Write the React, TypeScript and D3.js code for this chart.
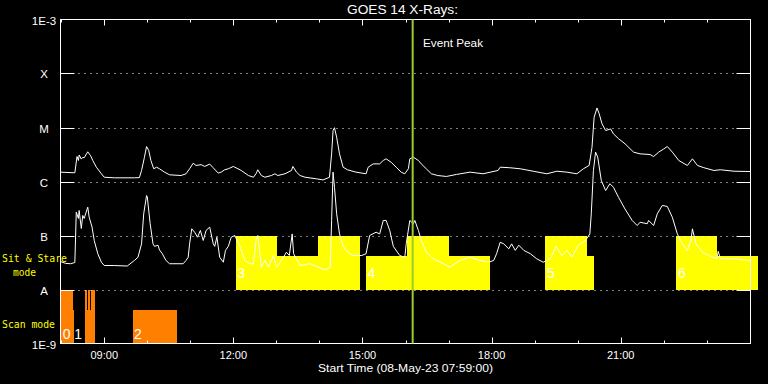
import React from "react";
import * as d3 from "d3";

// ---- data ----
const longChannel: [string, number][] = [
  ["07:59", 1.49e-6], ["08:19", 1.45e-6], ["08:22", 2.9e-6], ["08:24", 2.45e-6], ["08:25", 3.1e-6],
  ["08:28", 2.6e-6], ["08:30", 2.8e-6], ["08:32", 2.75e-6], ["08:37", 3.55e-6], ["08:41", 3.0e-6],
  ["08:44", 2.45e-6], ["08:49", 1.84e-6], ["08:56", 1.39e-6], ["09:00", 1.2e-6], ["09:14", 1.17e-6],
  ["09:42", 1.17e-6], ["09:49", 1.18e-6], ["09:52", 1.6e-6], ["09:56", 2.8e-6], ["09:59", 4.45e-6],
  ["10:02", 3.75e-6], ["10:05", 2.45e-6], ["10:09", 1.72e-6], ["10:13", 1.84e-6], ["10:17", 1.72e-6],
  ["10:24", 1.49e-6], ["10:31", 1.33e-6], ["10:47", 1.29e-6], ["10:54", 1.39e-6], ["10:59", 1.72e-6],
  ["11:04", 2.18e-6], ["11:08", 1.98e-6], ["11:15", 2.05e-6], ["11:20", 1.9e-6], ["11:27", 2.1e-6],
  ["11:32", 1.79e-6], ["11:39", 1.43e-6], ["11:43", 1.49e-6], ["11:48", 1.65e-6], ["11:53", 1.72e-6],
  ["12:00", 1.9e-6], ["12:11", 1.6e-6], ["12:21", 1.29e-6], ["12:28", 1.2e-6], ["12:32", 1.42e-6],
  ["12:34", 1.65e-6], ["12:39", 1.29e-6], ["12:44", 1.2e-6], ["12:53", 1.29e-6], ["12:58", 1.39e-6],
  ["13:02", 1.29e-6], ["13:12", 1.39e-6], ["13:21", 1.6e-6], ["13:23", 1.9e-6], ["13:28", 1.49e-6],
  ["13:33", 1.29e-6], ["13:40", 1.2e-6], ["13:56", 1.12e-6], ["14:05", 1.07e-6], ["14:14", 1.2e-6],
  ["14:17", 3.25e-6], ["14:19", 8.8e-6], ["14:21", 9.9e-6], ["14:24", 6.6e-6], ["14:28", 3.25e-6],
  ["14:33", 1.84e-6], ["14:39", 1.65e-6], ["14:51", 1.49e-6], ["15:05", 1.39e-6], ["15:08", 1.84e-6],
  ["15:15", 2.12e-6], ["15:24", 2.12e-6], ["15:29", 2.45e-6], ["15:33", 2.63e-6], ["15:40", 2.27e-6],
  ["15:47", 1.84e-6], ["15:54", 1.49e-6], ["15:59", 1.39e-6], ["16:04", 1.72e-6], ["16:06", 2.63e-6],
  ["16:11", 2.82e-6], ["16:18", 2.45e-6], ["16:22", 2.12e-6], ["16:29", 1.72e-6], ["16:36", 1.39e-6],
  ["16:45", 1.29e-6], ["16:57", 1.24e-6], ["17:11", 1.35e-6], ["17:30", 1.49e-6], ["17:48", 1.39e-6],
  ["18:09", 1.6e-6], ["18:12", 1.84e-6], ["18:25", 1.8e-6], ["18:40", 1.72e-6], ["18:58", 1.55e-6],
  ["19:17", 1.39e-6], ["19:31", 1.55e-6], ["19:45", 1.49e-6], ["19:59", 1.39e-6], ["20:08", 1.72e-6],
  ["20:16", 1.98e-6], ["20:20", 4.3e-6], ["20:23", 1.55e-5], ["20:27", 2.3e-5], ["20:30", 1.8e-5],
  ["20:34", 1.17e-5], ["20:39", 8.8e-6], ["20:46", 9.4e-6], ["20:50", 7.6e-6], ["20:57", 6.2e-6],
  ["21:06", 5.0e-6], ["21:18", 3.5e-6], ["21:27", 3.25e-6], ["21:41", 3.16e-6], ["21:46", 2.9e-6],
  ["21:53", 3.5e-6], ["22:00", 4.0e-6], ["22:05", 4.45e-6], ["22:12", 3.5e-6], ["22:21", 2.45e-6],
  ["22:33", 1.98e-6], ["22:40", 2.63e-6], ["22:47", 1.98e-6], ["22:56", 1.8e-6], ["23:10", 1.6e-6],
  ["23:19", 1.65e-6], ["23:38", 1.55e-6], ["24:01", 1.53e-6],
];

const shortChannel: [string, number][] = [
  ["07:59", 3.3e-8], ["08:06", 3.05e-8], ["08:13", 3.0e-8], ["08:19", 3.16e-8], ["08:21", 2.7e-7],
  ["08:24", 2.07e-7], ["08:25", 2.9e-7], ["08:28", 1.35e-7], ["08:30", 2.35e-7], ["08:32", 2.07e-7],
  ["08:37", 3.35e-7], ["08:39", 2.18e-7], ["08:43", 1.43e-7], ["08:46", 8.1e-8], ["08:51", 4.6e-8],
  ["08:56", 3.2e-8], ["09:00", 2.78e-8], ["09:14", 2.78e-8], ["09:32", 2.72e-8], ["09:42", 3.45e-8],
  ["09:47", 3.95e-8], ["09:52", 7.0e-8], ["09:55", 2.52e-7], ["09:59", 5.5e-7], ["10:00", 5.2e-7],
  ["10:04", 1.65e-7], ["10:08", 7.0e-8], ["10:10", 6.3e-8], ["10:15", 6.6e-8], ["10:17", 5.4e-8],
  ["10:21", 4.6e-8], ["10:26", 3.45e-8], ["10:31", 3.0e-8], ["10:50", 3.0e-8], ["10:54", 3.45e-8],
  ["10:57", 3.95e-8], ["10:59", 7.0e-8], ["11:02", 1.33e-7], ["11:06", 1.15e-7], ["11:10", 9.3e-8],
  ["11:14", 1.24e-7], ["11:18", 8.1e-8], ["11:22", 1.24e-7], ["11:27", 1.43e-7], ["11:32", 7.0e-8],
  ["11:34", 6.3e-8], ["11:37", 9.3e-8], ["11:41", 3.95e-8], ["11:46", 3.2e-8], ["11:49", 5.3e-8],
  ["11:53", 6.3e-8], ["11:57", 9.3e-8], ["12:02", 1.0e-7], ["12:09", 6.3e-8], ["12:16", 3.45e-8],
  ["12:23", 3.0e-8], ["12:28", 3.0e-8], ["12:32", 9.3e-8], ["12:34", 1.0e-7], ["12:39", 2.59e-8],
  ["12:44", 3.45e-8], ["12:49", 2.59e-8], ["12:56", 4.26e-8], ["13:00", 2.59e-8], ["13:07", 3.45e-8],
  ["13:14", 4.9e-8], ["13:18", 4.26e-8], ["13:22", 1.07e-7], ["13:24", 4.6e-8], ["13:33", 2.78e-8],
  ["13:47", 3.0e-8], ["13:58", 2.59e-8], ["14:08", 2.3e-8], ["14:15", 2.59e-8], ["14:17", 1.9e-7],
  ["14:19", 1.49e-6], ["14:21", 7.8e-7], ["14:24", 2.52e-7], ["14:28", 1.07e-7], ["14:33", 6.3e-8],
  ["14:40", 4.9e-8], ["14:47", 4.26e-8], ["14:59", 4.26e-8], ["15:05", 4.6e-8], ["15:10", 1.0e-7],
  ["15:19", 1.15e-7], ["15:24", 1.07e-7], ["15:29", 1.9e-7], ["15:33", 1.9e-7], ["15:38", 1.24e-7],
  ["15:43", 6.3e-8], ["15:52", 4.26e-8], ["15:59", 3.95e-8], ["16:01", 7.0e-8], ["16:06", 1.9e-7],
  ["16:11", 1.65e-7], ["16:13", 1.9e-7], ["16:18", 1.24e-7], ["16:22", 8.1e-8], ["16:29", 4.9e-8],
  ["16:39", 3.7e-8], ["16:53", 3.0e-8], ["17:02", 2.59e-8], ["17:16", 3.45e-8], ["17:30", 3.95e-8],
  ["17:44", 3.45e-8], ["17:56", 3.2e-8], ["18:03", 3.45e-8], ["18:07", 4.6e-8], ["18:12", 7.5e-8],
  ["18:17", 7.0e-8], ["18:24", 5.66e-8], ["18:28", 7.0e-8], ["18:33", 5.3e-8], ["18:38", 6.6e-8],
  ["18:45", 5.3e-8], ["18:54", 4.6e-8], ["19:03", 3.7e-8], ["19:12", 3.2e-8], ["19:22", 3.7e-8],
  ["19:30", 6.3e-8], ["19:38", 4.26e-8], ["19:45", 5.3e-8], ["19:52", 3.95e-8], ["20:01", 6.6e-8],
  ["20:11", 8.1e-8], ["20:17", 1.07e-7], ["20:19", 2.52e-7], ["20:22", 1.6e-6], ["20:25", 3.5e-6],
  ["20:28", 2.82e-6], ["20:33", 1.04e-6], ["20:39", 6.8e-7], ["20:45", 9.1e-7], ["20:50", 7.8e-7],
  ["20:57", 5.1e-7], ["21:06", 3.1e-7], ["21:16", 1.9e-7], ["21:23", 1.53e-7], ["21:27", 1.76e-7],
  ["21:37", 1.65e-7], ["21:39", 1.9e-7], ["21:46", 1.53e-7], ["21:51", 2.52e-7], ["21:58", 3.6e-7],
  ["22:05", 3.45e-7], ["22:12", 2.18e-7], ["22:19", 1.07e-7], ["22:26", 7.0e-8], ["22:33", 5.3e-8],
  ["22:38", 8.1e-8], ["22:40", 1.33e-7], ["22:45", 7.0e-8], ["22:54", 4.9e-8], ["23:03", 4.26e-8],
  ["23:14", 3.7e-8], ["23:16", 5.1e-8], ["23:19", 3.7e-8], ["23:38", 3.7e-8], ["24:01", 3.45e-8],
];

// instrument mode segments: [start, end, level]
const scanSegments: [string, string, "high" | "low"][] = [
  ["08:00:00", "08:16:10", "high"], ["08:16:10", "08:18:30", "low"],
  ["08:32:30", "08:46:30", "low"],
  ["08:32:30", "08:35:20", "high"], ["08:36:40", "08:40:00", "high"], ["08:42:00", "08:46:30", "high"],
  ["09:39:30", "10:42:00", "low"],
];
const scanLabels: [string, string][] = [["0", "08:00:00"], ["1", "08:16:10"], ["2", "09:39:30"]];

const stareSegments: [string, string, "high" | "low"][] = [
  ["12:03:20", "13:00:10", "high"], ["13:00:10", "13:57:25", "low"], ["13:57:25", "14:56:30", "high"],
  ["15:04:50", "16:01:45", "low"], ["16:01:45", "17:00:45", "high"], ["17:00:45", "17:58:00", "low"],
  ["19:14:50", "20:13:00", "high"], ["20:13:00", "20:23:15", "low"],
  ["22:17:45", "23:14:35", "high"], ["23:14:35", "24:11:50", "low"],
];
const stareLabels: [string, string][] = [
  ["3", "12:03:20"], ["4", "15:04:50"], ["5", "19:14:50"], ["6", "22:17:45"],
];

const scanLevels = { base: 1e-9, low: 4.1e-9, high: 1e-8 };
const stareLevels = { base: 1e-8, low: 4.1e-8, high: 1e-7 };

const yTickValues = [1e-3, 1e-4, 1e-5, 1e-6, 1e-7, 1e-8, 1e-9];
const yTickLabels = ["1E-3", "X", "M", "C", "B", "A", "1E-9"];
const xMajorHours = [9, 12, 15, 18, 21];
const xMajorLabels = ["09:00", "12:00", "15:00", "18:00", "21:00"];
const xMinorHours = [8, 10, 11, 13, 14, 16, 17, 19, 20, 22, 23];
const eventPeak = "16:10:00";
const timeDomain = ["07:59:00", "24:01:00"];

const parseT = (s: string) => {
  const [h, m, sec] = s.split(":");
  return +h + +m / 60 + (sec ? +sec : 0) / 3600;
};

export default function App() {
  const W = 768, H = 384;
  const left = 60.5, right = 750.5, top = 19.5, bottom = 343.5;
  const x = d3.scaleLinear().domain(timeDomain.map(parseT)).range([left, right]);
  const y = d3.scaleLog().domain([1e-9, 1e-3]).range([bottom, top]);
  const line = d3
    .line<[string, number]>()
    .x((d) => x(parseT(d[0])))
    .y((d) => y(d[1]));

  const font = "'Liberation Sans', Arial, sans-serif";
  const mono = "'DejaVu Sans Mono', 'Liberation Mono', monospace";

  const rects = (
    segs: [string, string, "high" | "low"][],
    lv: { base: number; low: number; high: number },
    color: string,
    key: string
  ) =>
    segs.map((s, i) => {
      const x0 = x(parseT(s[0]));
      const x1 = x(parseT(s[1]));
      const yt = y(s[2] === "high" ? lv.high : lv.low);
      return (
        <rect key={key + i} x={x0} y={yt} width={x1 - x0} height={y(lv.base) - yt} fill={color} shapeRendering="crispEdges" />
      );
    });

  return (
    <svg
      width={W}
      height={H}
      style={{ position: "fixed", left: 0, top: 0, display: "block" }}
      fontFamily={font}
    >
      <rect width={W} height={H} fill="#000" />
      {rects(stareSegments, stareLevels, "#ffff00", "s")}
      {rects(scanSegments, scanLevels, "#ff8000", "c")}
      {/* block numbers */}
      {stareLabels.map(([lab, t]) => (
        <text key={"sl" + lab} x={x(parseT(t)) + 1.5} y={y(stareLevels.base) - 12} fill="#fff" fontSize={14}>
          {lab}
        </text>
      ))}
      {scanLabels.map(([lab, t]) => (
        <text key={"cl" + lab} x={x(parseT(t)) + 1.5} y={bottom - 5} fill="#fff" fontSize={14}>
          {lab}
        </text>
      ))}
      {/* dotted grid */}
      {yTickValues.slice(1, -1).map((v) => (
        <line key={"g" + v} x1={left} x2={right} y1={Math.round(y(v)) + 0.5} y2={Math.round(y(v)) + 0.5} stroke="#fff" strokeDasharray="1 5" />
      ))}
      {/* y ticks and labels */}
      {yTickValues.map((v, i) => {
        const yy = Math.round(y(v)) + 0.5;
        return (
          <g key={"yt" + i}>
            {i > 0 && i < yTickValues.length - 1 && (
              <>
                <line x1={left} x2={left + 14} y1={yy} y2={yy} stroke="#fff" />
                <line x1={right - 14} x2={right} y1={yy} y2={yy} stroke="#fff" />
              </>
            )}
            <text x={44} y={yy + 4} fill="#fff" fontSize={11.5} textAnchor="middle">
              {yTickLabels[i]}
            </text>
          </g>
        );
      })}
      {/* x ticks */}
      {xMajorHours.map((h) => {
        const xx = Math.round(x(h)) + 0.5;
        return (
          <g key={"xm" + h}>
            <line x1={xx} x2={xx} y1={top} y2={top + 6} stroke="#fff" />
            <line x1={xx} x2={xx} y1={bottom} y2={bottom - 6} stroke="#fff" />
          </g>
        );
      })}
      {xMinorHours.map((h) => {
        const xx = Math.round(x(h)) + 0.5;
        return (
          <g key={"xn" + h}>
            <line x1={xx} x2={xx} y1={top} y2={top + 3} stroke="#fff" />
            <line x1={xx} x2={xx} y1={bottom} y2={bottom - 3} stroke="#fff" />
          </g>
        );
      })}
      {xMajorHours.map((h, i) => (
        <text key={"xl" + h} x={x(h)} y={359} fill="#fff" fontSize={11} textAnchor="middle">
          {xMajorLabels[i]}
        </text>
      ))}
      {/* curves */}
      <path d={line(longChannel) || ""} fill="none" stroke="#fff" strokeWidth={1} />
      <path d={line(shortChannel) || ""} fill="none" stroke="#fff" strokeWidth={1} />
      {/* frame */}
      <rect x={left} y={top} width={right - left} height={bottom - top} fill="none" stroke="#fff" />
      {/* event peak */}
      <line x1={x(parseT(eventPeak))} x2={x(parseT(eventPeak))} y1={top} y2={bottom} stroke="#9acd32" strokeWidth={2} />
      <text x={423} y={46.5} fill="#fff" fontSize={11} textLength={60} lengthAdjust="spacingAndGlyphs">Event Peak</text>
      {/* titles */}
      <text x={347} y={13.5} fill="#fff" fontSize={12} textLength={111} lengthAdjust="spacingAndGlyphs">GOES 14 X-Rays:</text>
      <text x={318} y={372} fill="#fff" fontSize={11} textLength={175} lengthAdjust="spacingAndGlyphs">Start Time (08-May-23 07:59:00)</text>
      {/* mode labels */}
      <text x={2} y={262} fill="#ffff00" fontSize={10.5} fontFamily={mono} textLength={65} lengthAdjust="spacingAndGlyphs">Sit &amp; Stare</text>
      <text x={13} y={275.5} fill="#ffff00" fontSize={10.5} fontFamily={mono} textLength={23} lengthAdjust="spacingAndGlyphs">mode</text>
      <text x={2} y={328} fill="#ffff00" fontSize={11} fontFamily={mono} textLength={53} lengthAdjust="spacingAndGlyphs">Scan mode</text>
    </svg>
  );
}
